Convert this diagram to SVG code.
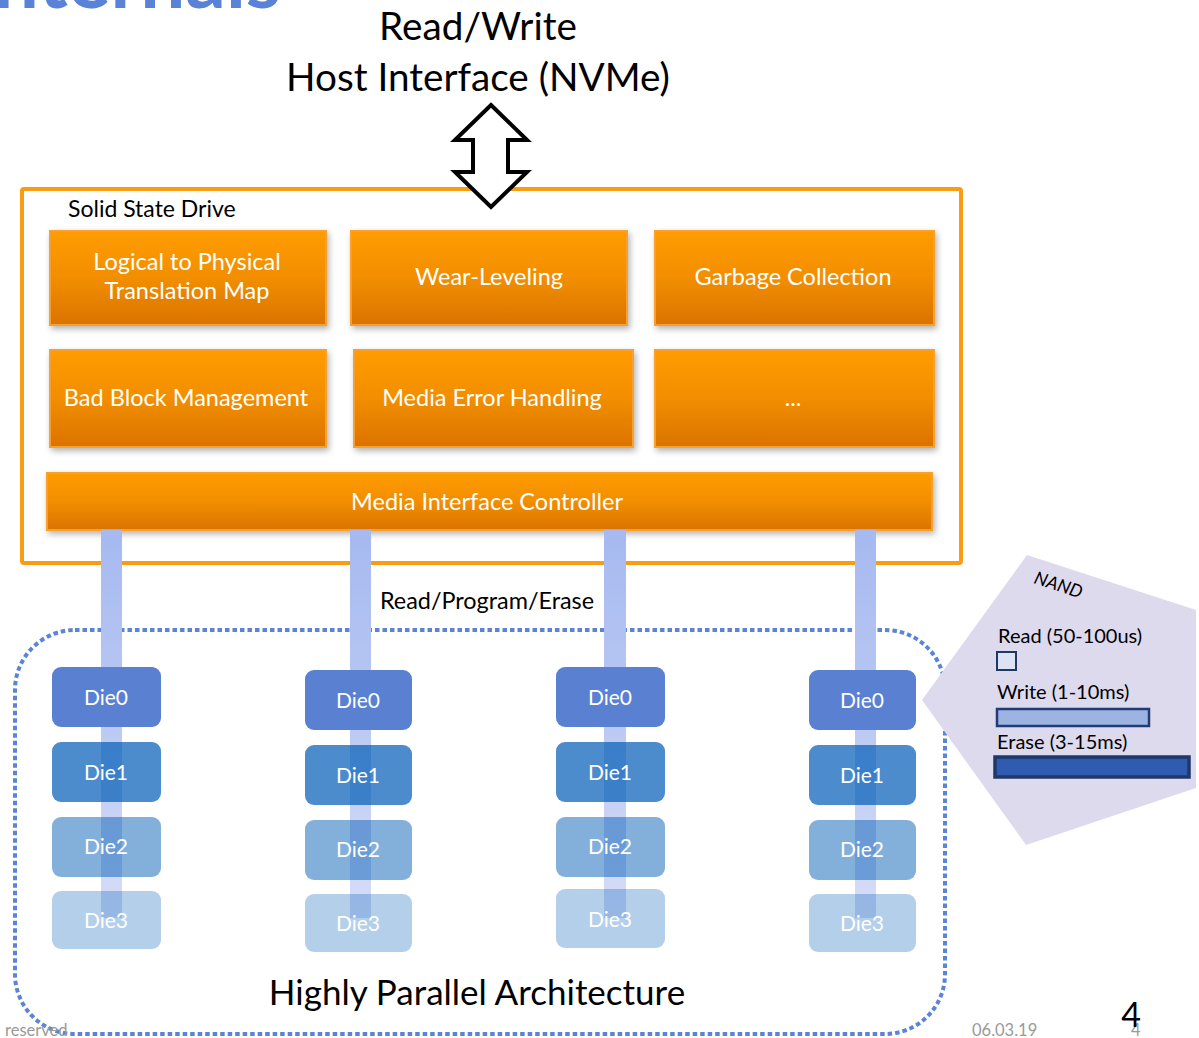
<svg xmlns="http://www.w3.org/2000/svg" width="1199" height="1038" viewBox="0 0 1199 1038">
  <defs>
    <linearGradient id="orangeFill" x1="0" y1="0" x2="0" y2="1">
      <stop offset="0" stop-color="#FF9C00"/>
      <stop offset="0.5" stop-color="#F28E00"/>
      <stop offset="1" stop-color="#D97300"/>
    </linearGradient>
    <linearGradient id="busFill" gradientUnits="userSpaceOnUse" x1="0" y1="530" x2="0" y2="920">
      <stop offset="0" stop-color="#A6B9F0"/>
      <stop offset="0.45" stop-color="#B9C8F3"/>
      <stop offset="1" stop-color="#D6DDF7"/>
    </linearGradient>
    <filter id="shadow" x="-10%" y="-20%" width="125%" height="150%">
      <feDropShadow dx="2" dy="3" stdDeviation="3" flood-color="#000" flood-opacity="0.3"/>
    </filter>
    <style>
      .txt { font-family: Lato, "Open Sans", "Liberation Sans", sans-serif; }
      .func rect { fill: url(#orangeFill); stroke: #F8A02E; stroke-width: 2; filter: url(#shadow); }
      .func text { fill: #FFFFFF; font-size: 23.5px; text-anchor: middle; }
      .die text { fill: #FFFFFF; font-size: 21px; text-anchor: middle; }
      .d0 { fill: #5A80D2; }
      .d1 { fill: #0760B8; fill-opacity: 0.72; }
      .d2 { fill: #0760B8; fill-opacity: 0.5; }
      .d3 { fill: #0760B8; fill-opacity: 0.3; }
      .bus { fill: url(#busFill); }
      .legend { font-size: 20px; fill: #000; }
      .foot { font-size: 16.5px; fill: #9A9A9A; }
    </style>
  </defs>

  <rect width="1199" height="1038" fill="#FFFFFF"/>

  <!-- slide title, mostly above the visible area -->
  <text class="txt" x="281" y="8" font-size="80" font-weight="bold" fill="#5A82D6" text-anchor="end">Internals</text>

  <!-- host interface label -->
  <g id="host">
    <text class="txt" x="478" y="40" font-size="38.7" text-anchor="middle" fill="#000">Read/Write</text>
    <text class="txt" x="478" y="91" font-size="38.7" text-anchor="middle" fill="#000">Host Interface (NVMe)</text>
  </g>

  <!-- SSD container -->
  <g id="ssd">
    <rect x="22" y="189" width="939" height="374" rx="2" fill="#FFFFFF" stroke="#F99C14" stroke-width="4"/>
    <text class="txt" x="68" y="217" font-size="23" fill="#000">Solid State Drive</text>
  </g>

  <!-- firmware function blocks -->
  <g id="l2p" class="func txt">
    <rect x="50" y="231" width="276" height="94"/>
    <text x="187" y="270">Logical to Physical</text>
    <text x="187" y="299">Translation Map</text>
  </g>
  <g id="wear-leveling" class="func txt">
    <rect x="351" y="231" width="276" height="94"/>
    <text x="489" y="285">Wear-Leveling</text>
  </g>
  <g id="garbage-collection" class="func txt">
    <rect x="655" y="231" width="279" height="94"/>
    <text x="793" y="285">Garbage Collection</text>
  </g>
  <g id="bad-block" class="func txt">
    <rect x="50" y="350" width="276" height="97"/>
    <text x="186" y="406">Bad Block Management</text>
  </g>
  <g id="media-error" class="func txt">
    <rect x="354" y="350" width="279" height="97"/>
    <text x="492" y="406">Media Error Handling</text>
  </g>
  <g id="more" class="func txt">
    <rect x="655" y="350" width="279" height="97"/>
    <text x="793" y="406">...</text>
  </g>
  <g id="media-interface" class="func txt">
    <rect x="47" y="473" width="885" height="57"/>
    <text x="487" y="510">Media Interface Controller</text>
  </g>

  <!-- parallel die array boundary -->
  <g id="array">
    <rect x="15" y="630" width="930" height="404" rx="60" fill="none" stroke="#5B84D6" stroke-width="4" stroke-dasharray="4.5 3"/>
    <text class="txt" x="477" y="1005" font-size="35" text-anchor="middle" fill="#000">Highly Parallel Architecture</text>
  </g>

  <!-- channel buses from the controller down to the dies -->
  <g id="connectors">
    <rect class="bus" x="101" y="530" width="21" height="388"/>
    <rect class="bus" x="350" y="530" width="21" height="388"/>
    <rect class="bus" x="604" y="530" width="22" height="388"/>
    <rect class="bus" x="855" y="530" width="21" height="388"/>
    <text class="txt" x="487" y="609" font-size="23.4" text-anchor="middle" fill="#000">Read/Program/Erase</text>
    <polygon points="491,105 527,140 508,140 508,172 527,172 491,207 455,172 473,172 473,140 455,140" fill="#FFFFFF" stroke="#000" stroke-width="4" stroke-linejoin="miter"/>
  </g>

  <!-- channel 0 -->
  <g id="ch0-die0" class="die txt"><rect class="d0" x="52" y="667" width="109" height="60" rx="9"/><text x="106" y="705">Die0</text></g>
  <g id="ch0-die1" class="die txt"><rect class="d1" x="52" y="742" width="109" height="60" rx="9"/><text x="106" y="780">Die1</text></g>
  <g id="ch0-die2" class="die txt"><rect class="d2" x="52" y="817" width="109" height="60" rx="9"/><text x="106" y="854">Die2</text></g>
  <g id="ch0-die3" class="die txt"><rect class="d3" x="52" y="891" width="109" height="58" rx="9"/><text x="106" y="928">Die3</text></g>

  <!-- channel 1 -->
  <g id="ch1-die0" class="die txt"><rect class="d0" x="305" y="670" width="107" height="60" rx="9"/><text x="358" y="708">Die0</text></g>
  <g id="ch1-die1" class="die txt"><rect class="d1" x="305" y="745" width="107" height="60" rx="9"/><text x="358" y="783">Die1</text></g>
  <g id="ch1-die2" class="die txt"><rect class="d2" x="305" y="820" width="107" height="60" rx="9"/><text x="358" y="857">Die2</text></g>
  <g id="ch1-die3" class="die txt"><rect class="d3" x="305" y="894" width="107" height="58" rx="9"/><text x="358" y="931">Die3</text></g>

  <!-- channel 2 -->
  <g id="ch2-die0" class="die txt"><rect class="d0" x="556" y="667" width="109" height="60" rx="9"/><text x="610" y="705">Die0</text></g>
  <g id="ch2-die1" class="die txt"><rect class="d1" x="556" y="742" width="109" height="60" rx="9"/><text x="610" y="780">Die1</text></g>
  <g id="ch2-die2" class="die txt"><rect class="d2" x="556" y="817" width="109" height="60" rx="9"/><text x="610" y="854">Die2</text></g>
  <g id="ch2-die3" class="die txt"><rect class="d3" x="556" y="889" width="109" height="59" rx="9"/><text x="610" y="927">Die3</text></g>

  <!-- channel 3 -->
  <g id="ch3-die0" class="die txt"><rect class="d0" x="809" y="670" width="107" height="60" rx="9"/><text x="862" y="708">Die0</text></g>
  <g id="ch3-die1" class="die txt"><rect class="d1" x="809" y="745" width="107" height="60" rx="9"/><text x="862" y="783">Die1</text></g>
  <g id="ch3-die2" class="die txt"><rect class="d2" x="809" y="820" width="107" height="60" rx="9"/><text x="862" y="857">Die2</text></g>
  <g id="ch3-die3" class="die txt"><rect class="d3" x="809" y="894" width="107" height="58" rx="9"/><text x="862" y="931">Die3</text></g>

  <!-- NAND timing callout -->
  <g id="nand-callout">
    <polygon points="1027,555 1196,610 1196,788 1026,845 922,700" fill="#DEDAEE"/>
    <text class="txt" x="1033" y="583" font-size="18" font-style="italic" fill="#000" transform="rotate(18 1033 583)">NAND</text>
    <text class="txt legend" x="998" y="643">Read (50-100us)</text>
    <rect x="997" y="652" width="19" height="18" fill="#DDE3F4" stroke="#203864" stroke-width="2"/>
    <text class="txt legend" x="997" y="699">Write (1-10ms)</text>
    <rect x="997" y="709" width="152" height="17" fill="#9DB3E2" stroke="#203C78" stroke-width="2.5"/>
    <text class="txt legend" x="997" y="749">Erase (3-15ms)</text>
    <rect x="995" y="757" width="194" height="20" fill="#2F5BB0" stroke="#1F3868" stroke-width="3.5"/>
  </g>

  <!-- slide footer -->
  <g id="footer">
    <text class="txt foot" x="5" y="1036">reserved</text>
    <text class="txt foot" x="972" y="1036">06.03.19</text>
    <text class="txt foot" x="1131" y="1036">4</text>
    <text class="txt" x="1131" y="1027" font-size="34" text-anchor="middle" fill="#000">4</text>
  </g>
</svg>
